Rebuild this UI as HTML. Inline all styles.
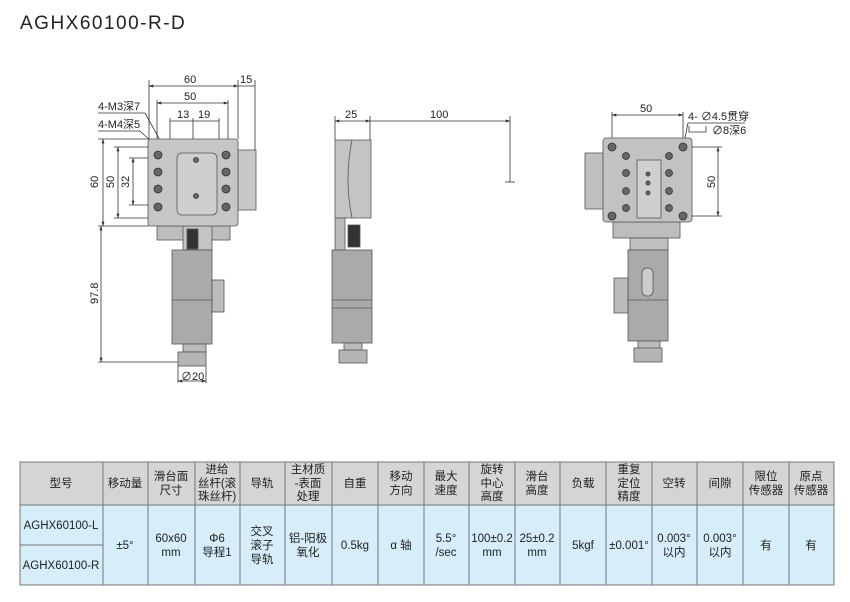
<!DOCTYPE html>
<html><head><meta charset="utf-8"><style>
body{margin:0;background:#fff;width:850px;height:602px;overflow:hidden;font-family:"Liberation Sans","Noto Sans CJK SC",sans-serif}
svg{position:absolute;left:0;top:0}
</style></head><body>
<svg width="850" height="602" viewBox="0 0 850 602" xmlns="http://www.w3.org/2000/svg" font-family="Liberation Sans, Noto Sans CJK SC, sans-serif">
<defs><marker id="a" viewBox="0 0 10 10" refX="9" refY="5" markerWidth="6" markerHeight="6" orient="auto-start-reverse"><path d="M0 2L10 5L0 8z" fill="#333"/></marker></defs>
<text x="20" y="29" font-size="19" fill="#222" letter-spacing="1.5">AGHX60100-R-D</text>
<g stroke="#333" stroke-width="0.8" fill="none">
<line x1="149" y1="86" x2="238" y2="86" marker-start="url(#a)" marker-end="url(#a)"/><line x1="238" y1="86" x2="255" y2="86"/><line x1="149" y1="80" x2="149" y2="139"/><line x1="238" y1="80" x2="238" y2="139"/><line x1="255" y1="80" x2="255" y2="150"/>
<line x1="157" y1="103" x2="228" y2="103" marker-start="url(#a)" marker-end="url(#a)"/><line x1="157" y1="100" x2="157" y2="147"/><line x1="228" y1="100" x2="228" y2="147"/>
<line x1="170" y1="121" x2="219" y2="121"/><line x1="170" y1="118" x2="170" y2="160"/><line x1="193" y1="118" x2="193" y2="226"/><line x1="219" y1="118" x2="219" y2="160"/>
<line x1="103" y1="139" x2="103" y2="226" marker-start="url(#a)" marker-end="url(#a)"/><line x1="98" y1="139" x2="149" y2="139"/><line x1="98" y1="226" x2="149" y2="226"/>
<line x1="118" y1="147" x2="118" y2="218" marker-start="url(#a)" marker-end="url(#a)"/><line x1="114" y1="147" x2="157" y2="147"/><line x1="114" y1="218" x2="157" y2="218"/>
<line x1="133" y1="158" x2="133" y2="205" marker-start="url(#a)" marker-end="url(#a)"/><line x1="129" y1="158" x2="170" y2="158"/><line x1="129" y1="205" x2="170" y2="205"/>
<line x1="101" y1="226" x2="101" y2="362" marker-start="url(#a)" marker-end="url(#a)"/><line x1="98" y1="362" x2="180" y2="362"/>
<line x1="178" y1="366" x2="178" y2="383"/><line x1="206" y1="366" x2="206" y2="383"/><line x1="178" y1="381" x2="206" y2="381" marker-start="url(#a)" marker-end="url(#a)"/>
<line x1="98" y1="113" x2="145" y2="113"/><line x1="145" y1="113" x2="170" y2="158"/>
<line x1="98" y1="131" x2="140" y2="131"/><line x1="140" y1="131" x2="157" y2="147"/>
<line x1="335" y1="121" x2="370" y2="121" marker-start="url(#a)" marker-end="url(#a)"/><line x1="370" y1="121" x2="510" y2="121" marker-end="url(#a)"/><line x1="335" y1="116" x2="335" y2="140"/><line x1="370" y1="116" x2="370" y2="140"/><line x1="510" y1="116" x2="510" y2="182"/>
<line x1="505" y1="182" x2="515" y2="182"/>
<line x1="612" y1="115" x2="683" y2="115" marker-start="url(#a)" marker-end="url(#a)"/><line x1="612" y1="112" x2="612" y2="145"/><line x1="683" y1="112" x2="683" y2="145"/>
<line x1="718" y1="147" x2="718" y2="216" marker-start="url(#a)" marker-end="url(#a)"/><line x1="690" y1="147" x2="722" y2="147"/><line x1="690" y1="216" x2="722" y2="216"/>
<line x1="688" y1="123" x2="745" y2="123"/><line x1="688" y1="123" x2="685" y2="138"/>
<path d="M689 126v6h17v-6"/>
</g>
<g font-size="11" fill="#222">
<text x="184" y="83">60</text><text x="240" y="83">15</text><text x="184" y="100">50</text>
<text x="177" y="118">13</text><text x="198" y="118">19</text>
<text x="98" y="110">4-M3深7</text><text x="98" y="128">4-M4深5</text>
<text transform="translate(98,188) rotate(-90)">60</text>
<text transform="translate(114,188) rotate(-90)">50</text>
<text transform="translate(129,188) rotate(-90)">32</text>
<text transform="translate(98,304) rotate(-90)">97.8</text>
<text x="181" y="380">∅20</text>
<text x="345" y="118">25</text><text x="430" y="118">100</text>
<text x="640" y="112">50</text>
<text x="688" y="120">4- ∅4.5贯穿</text><text x="712" y="134">∅8深6</text>
<text transform="translate(715,188) rotate(-90)">50</text>
</g>
<g stroke="#555" stroke-width="0.8">
<rect x="238" y="150" width="18" height="60" fill="#c8c8c8"/>
<rect x="157" y="226" width="73" height="14" fill="#bdbdbd"/>
<rect x="183" y="226" width="29" height="24" fill="#c4c4c4"/>
<rect x="187" y="229" width="11" height="20" fill="#333"/>
<rect x="172" y="250" width="40" height="94" fill="#aaa"/>
<line x1="172" y1="300" x2="212" y2="300"/>
<rect x="212" y="280" width="12" height="32" fill="#bbb"/>
<rect x="183" y="344" width="23" height="8" fill="#bbb"/>
<rect x="178" y="352" width="28" height="14" fill="#b5b5b5"/>
<rect x="148" y="139" width="90" height="87" rx="3" fill="#c6c6c6"/>
<rect x="177" y="153" width="40" height="62" rx="5" fill="#cfcfcf"/>
</g>
<g fill="#666" stroke="#333" stroke-width="0.8">
<circle cx="158" cy="155" r="4"/><circle cx="158" cy="172" r="4"/><circle cx="158" cy="189" r="4"/><circle cx="158" cy="207" r="4"/>
<circle cx="226" cy="155" r="4"/><circle cx="226" cy="172" r="4"/><circle cx="226" cy="189" r="4"/><circle cx="226" cy="207" r="4"/>
<circle cx="196" cy="160" r="2.5"/><circle cx="196" cy="196" r="2.5"/>
</g>
<g stroke="#555" stroke-width="0.8">
<rect x="335" y="140" width="36" height="78" fill="#c4c4c4"/>
<path d="M352 140 Q344 179 352 218" fill="none"/>
<rect x="335" y="218" width="10" height="32" fill="#bbb"/>
<rect x="348" y="225" width="12" height="22" fill="#333"/>
<rect x="332" y="250" width="40" height="93" fill="#aaa"/>
<line x1="332" y1="300" x2="372" y2="300"/><line x1="332" y1="308" x2="372" y2="308"/>
<rect x="344" y="343" width="18" height="8" fill="#bbb"/>
<rect x="339" y="350" width="28" height="13" fill="#b5b5b5"/>
</g>
<g stroke="#555" stroke-width="0.8">
<rect x="585" y="153" width="18" height="56" fill="#c0c0c0"/>
<rect x="613" y="222" width="67" height="16" fill="#bdbdbd"/>
<rect x="630" y="238" width="38" height="12" fill="#c0c0c0"/>
<rect x="628" y="250" width="40" height="91" fill="#aaa"/>
<line x1="628" y1="300" x2="668" y2="300"/>
<rect x="642" y="268" width="11" height="28" rx="5" fill="#ccc"/>
<rect x="614" y="278" width="14" height="35" fill="#bbb"/>
<rect x="638" y="341" width="22" height="8" fill="#bbb"/>
<rect x="634" y="348" width="28" height="14" fill="#b5b5b5"/>
<rect x="603" y="138" width="89" height="84" rx="3" fill="#c2c2c2"/>
<rect x="637" y="160" width="24" height="58" fill="#cfcfcf"/>
</g>
<g fill="#666" stroke="#333" stroke-width="0.8">
<circle cx="612" cy="147" r="4"/><circle cx="683" cy="147" r="4"/><circle cx="612" cy="216" r="4"/><circle cx="683" cy="216" r="4"/>
<circle cx="626" cy="156" r="3.5"/><circle cx="669" cy="156" r="3.5"/><circle cx="626" cy="173" r="3.5"/><circle cx="669" cy="173" r="3.5"/>
<circle cx="626" cy="191" r="3.5"/><circle cx="669" cy="191" r="3.5"/><circle cx="626" cy="208" r="3.5"/><circle cx="669" cy="208" r="3.5"/>
<circle cx="648" cy="174" r="2"/><circle cx="648" cy="183" r="2"/><circle cx="648" cy="193" r="2"/>
</g>
<rect x="20" y="462" width="814" height="43" fill="#d5d5d5"/>
<rect x="20" y="505" width="814" height="80" fill="#d6eefa"/>
<g stroke="#777" stroke-width="1">
<rect x="20" y="462" width="814" height="123" fill="none"/>
<line x1="20" y1="505" x2="834" y2="505"/><line x1="20" y1="545" x2="103" y2="545"/>
<line x1="103" y1="462" x2="103" y2="585"/><line x1="148" y1="462" x2="148" y2="585"/><line x1="195" y1="462" x2="195" y2="585"/><line x1="240" y1="462" x2="240" y2="585"/><line x1="285" y1="462" x2="285" y2="585"/><line x1="332" y1="462" x2="332" y2="585"/><line x1="378" y1="462" x2="378" y2="585"/><line x1="424" y1="462" x2="424" y2="585"/><line x1="469" y1="462" x2="469" y2="585"/><line x1="515" y1="462" x2="515" y2="585"/><line x1="560" y1="462" x2="560" y2="585"/><line x1="606" y1="462" x2="606" y2="585"/><line x1="652" y1="462" x2="652" y2="585"/><line x1="697" y1="462" x2="697" y2="585"/><line x1="743" y1="462" x2="743" y2="585"/><line x1="789" y1="462" x2="789" y2="585"/>
</g>
<g font-size="11.5" fill="#222" text-anchor="middle">
<text x="61" y="487">型号</text><text x="125" y="487">移动量</text>
<text x="171" y="480">滑台面</text><text x="171" y="494">尺寸</text>
<text x="217" y="473">进给</text><text x="217" y="487">丝杆(滚</text><text x="217" y="500">珠丝杆)</text>
<text x="262" y="487">导轨</text>
<text x="308" y="473">主材质</text><text x="308" y="487">-表面</text><text x="308" y="500">处理</text>
<text x="355" y="487">自重</text>
<text x="401" y="480">移动</text><text x="401" y="494">方向</text>
<text x="446" y="480">最大</text><text x="446" y="494">速度</text>
<text x="492" y="473">旋转</text><text x="492" y="487">中心</text><text x="492" y="500">高度</text>
<text x="537" y="480">滑台</text><text x="537" y="494">高度</text>
<text x="583" y="487">负载</text>
<text x="629" y="473">重复</text><text x="629" y="487">定位</text><text x="629" y="500">精度</text>
<text x="674" y="487">空转</text><text x="720" y="487">间隙</text>
<text x="766" y="480">限位</text><text x="766" y="494">传感器</text>
<text x="811" y="480">原点</text><text x="811" y="494">传感器</text>
<text x="61" y="529">AGHX60100-L</text><text x="61" y="569">AGHX60100-R</text>
<text x="125" y="549">±5°</text>
<text x="171" y="542">60x60</text><text x="171" y="556">mm</text>
<text x="217" y="542">Φ6</text><text x="217" y="556">导程1</text>
<text x="262" y="535">交叉</text><text x="262" y="549">滚子</text><text x="262" y="563">导轨</text>
<text x="308" y="542">铝-阳极</text><text x="308" y="556">氧化</text>
<text x="355" y="549">0.5kg</text><text x="401" y="549">α 轴</text>
<text x="446" y="542">5.5°</text><text x="446" y="556">/sec</text>
<text x="492" y="542">100±0.2</text><text x="492" y="556">mm</text>
<text x="537" y="542">25±0.2</text><text x="537" y="556">mm</text>
<text x="583" y="549">5kgf</text><text x="629" y="549">±0.001°</text>
<text x="674" y="542">0.003°</text><text x="674" y="556">以内</text>
<text x="720" y="542">0.003°</text><text x="720" y="556">以内</text>
<text x="766" y="549">有</text><text x="811" y="549">有</text>
</g>
</svg>
</body></html>
